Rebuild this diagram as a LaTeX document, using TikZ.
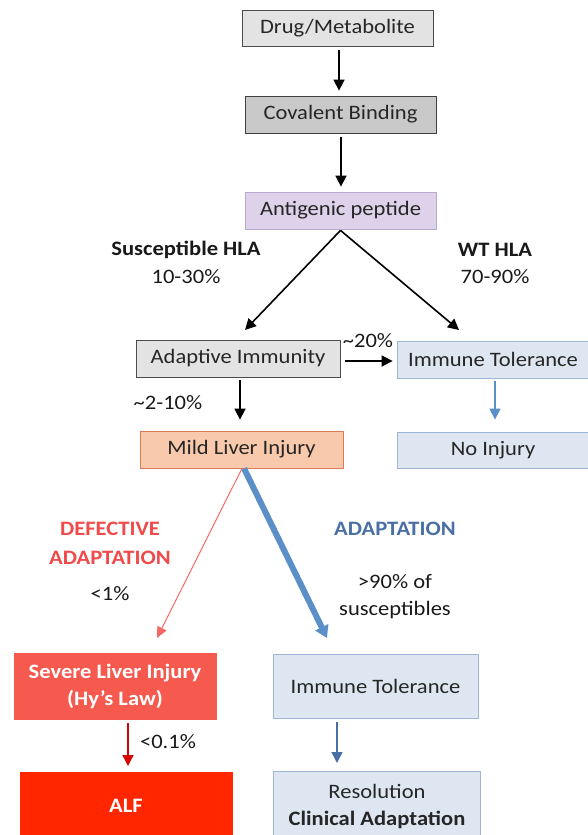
\documentclass[tikz,border=0pt]{standalone}
\usepackage{fontspec}
\setmainfont{Carlito}[FakeStretch=1.1]
\usetikzlibrary{arrows.meta}
\definecolor{gbox}{HTML}{E3E3E3}
\definecolor{gbox2}{HTML}{C9C9C9}
\definecolor{lav}{HTML}{DDD2EA}
\definecolor{lavb}{HTML}{B9A8D0}
\definecolor{lblue}{HTML}{DEE7F1}
\definecolor{lblueb}{HTML}{9DB5D6}
\definecolor{peach}{HTML}{F9C9AB}
\definecolor{peachb}{HTML}{E07A55}
\definecolor{sevred}{HTML}{F65A4F}
\definecolor{alfred}{HTML}{FF2600}
\definecolor{arrblue}{HTML}{5B8FC8}
\definecolor{darkblue}{HTML}{4A6FA5}
\definecolor{defred}{HTML}{F14A4A}
\definecolor{thinred}{HTML}{F26A62}
\tikzset{
  box/.style={draw, line width=0.8pt, inner sep=0pt, font=\fontsize{20.5}{22}\selectfont, text=black!85},
  grayb/.style={box, fill=gbox, draw=black!70},
  lbl/.style={font=\fontsize{20.5}{22}\selectfont, text=black!90, inner sep=0pt},
  blbl/.style={lbl, font=\fontsize{20.5}{22}\selectfont\bfseries},
  arr/.style={-{Triangle[length=11pt,width=11pt]}, line width=1.6pt},
}
\begin{document}
\begin{tikzpicture}[x=1pt,y=-1pt]
\useasboundingbox (0,0) rectangle (588,835);
\begin{scope}
\clip (0,0) rectangle (588,835);
% boxes
\node[grayb, minimum width=191pt, minimum height=36pt] (drug) at (337.5,28) {Drug/Metabolite};
\node[box, fill=gbox2, draw=black!75, minimum width=191pt, minimum height=37pt] (cov) at (340.5,114.5) {Covalent Binding};
\node[box, fill=lav, draw=lavb, minimum width=191pt, minimum height=37pt] (ant) at (340.5,210.5) {Antigenic peptide};
\node[grayb, minimum width=204pt, minimum height=37pt] (adap) at (238,358.5) {Adaptive Immunity};
\node[box, fill=lblue, draw=lblueb, minimum width=192pt, minimum height=37pt] (tol1) at (493,359.5) {Immune Tolerance};
\node[box, fill=peach, draw=peachb, minimum width=203pt, minimum height=37pt] (mild) at (241.5,449.5) {Mild Liver Injury};
\node[box, fill=lblue, draw=lblueb, minimum width=192pt, minimum height=36pt] (noinj) at (493,450) {No Injury};
\node[box, fill=sevred, draw=sevred, text=white, minimum width=202pt, minimum height=66pt, align=center, font=\fontsize{20.5}{27}\selectfont\bfseries] (sev) at (115,686) {Severe Liver Injury\\(Hy’s Law)};
\node[box, fill=lblue, draw=lblueb, minimum width=205pt, minimum height=64pt] (tol2) at (375.5,686) {Immune Tolerance};
\node[box, fill=alfred, draw=alfred, text=white, minimum width=212pt, minimum height=80pt] (alf) at (126,812) {};
\node[font=\fontsize{20.5}{22}\selectfont\bfseries, text=white, inner sep=0pt] (alft) at (126,806) {ALF};
\node[box, fill=lblue, draw=lblueb, minimum width=207pt, minimum height=80pt] (res) at (376.5,811) {};
\node[font=\fontsize{20.5}{27}\selectfont, align=center, text=black!85, inner sep=0pt] (rest) at (377,806) {Resolution\\\textbf{Clinical Adaptation}};
% labels
\node[blbl] (susc) at (186,250) {Susceptible HLA};
\node[lbl] (susp) at (186,277) {10-30\%};
\node[blbl] (wt) at (495,250) {WT HLA};
\node[lbl] (wtp) at (495,277) {70-90\%};
\node[lbl] (p20) at (368,341) {\textasciitilde 20\%};
\node[lbl] (p210) at (168,403) {\textasciitilde 2-10\%};
\node[blbl, text=defred, align=center, font=\fontsize{20.5}{29}\selectfont\bfseries] (def) at (110,543) {DEFECTIVE\\ADAPTATION};
\node[lbl] (p1) at (110,594) {<1\%};
\node[blbl, text=darkblue] (adt) at (395,529) {ADAPTATION};
\node[lbl, align=center, font=\fontsize{20.5}{27}\selectfont] (p90) at (395,597) {>90\% of\\susceptibles};
\node[lbl] (p01) at (168,742) {<0.1\%};
% connectors
\draw[arr] ([yshift=-4pt]drug.south -| 339,0) -- ([yshift=5pt]cov.north -| 339,0);
\draw[arr] ([yshift=-4pt]cov.south -| 341,0) -- ([yshift=5pt]ant.north -| 341,0);
\draw[arr] ([yshift=-1pt]ant.south) -- (245,330);
\draw[arr] ([yshift=-1pt]ant.south) -- (459,330);
\draw[arr] ([xshift=5pt]adap.east |- 0,361) -- ([xshift=-4pt]tol1.west |- 0,361);
\draw[arr] ([yshift=-3pt]adap.south -| 240,0) -- ([yshift=11pt]mild.north -| 240,0);
\draw[arr, arrblue] ([yshift=-3pt]tol1.south -| 495,0) -- ([yshift=12pt]noinj.north -| 495,0);
\draw[-{Triangle[length=11pt,width=10pt]}, thinred, line width=1pt] ([xshift=0.5pt]mild.south) -- (157,638);
\draw[-{Triangle[length=12pt,width=14pt]}, arrblue, line width=6pt] ([xshift=2.5pt]mild.south) -- (327,638);
\draw[arr, red!85!black, line width=1.4pt] ([yshift=-4pt]sev.south -| 128,0) -- (128,766);
\draw[arr, darkblue] ([yshift=-4pt]tol2.south -| 337,0) -- (337,763);
\end{scope}
\end{tikzpicture}
\end{document}
